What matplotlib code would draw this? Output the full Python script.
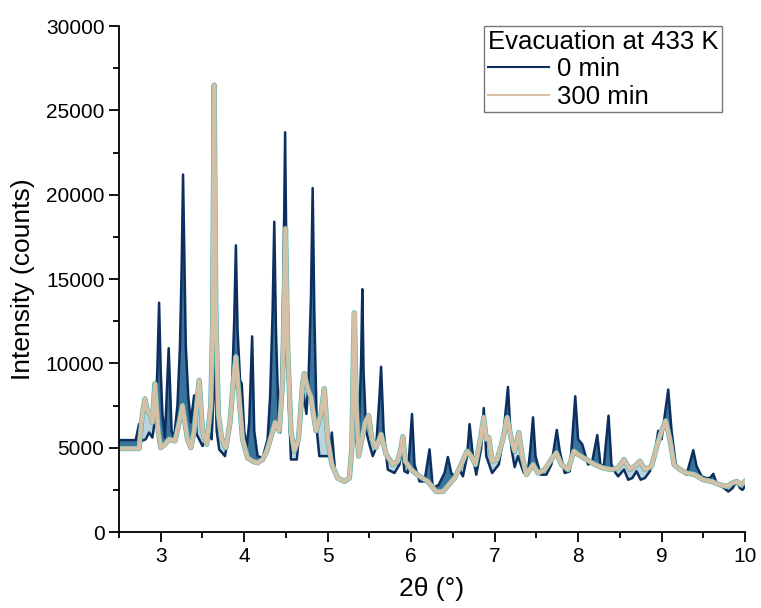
import numpy as np
import matplotlib
matplotlib.use('Agg')
import matplotlib.pyplot as plt
from matplotlib.ticker import MultipleLocator

plt.rcParams['font.family'] = ['Liberation Sans', 'DejaVu Sans']

# 0 min (2θ, counts)
theta_0min = [2.50, 2.70, 2.74, 2.77, 2.82, 2.86, 2.90, 2.94, 2.96, 2.98, 3.00, 3.02, 3.05, 3.095,
              3.13, 3.16, 3.20, 3.23, 3.25, 3.267, 3.285, 3.30, 3.33, 3.36, 3.40, 3.43, 3.50, 3.54,
              3.58, 3.61, 3.63, 3.645, 3.67, 3.70, 3.77, 3.82, 3.85, 3.88, 3.90, 3.92, 3.95, 3.97,
              4.00, 4.03, 4.06, 4.095, 4.12, 4.16, 4.22, 4.28, 4.31, 4.34, 4.36, 4.38, 4.41, 4.43,
              4.45, 4.47, 4.49, 4.51, 4.535, 4.56, 4.63, 4.67, 4.71, 4.745, 4.77, 4.80, 4.82, 4.84,
              4.87, 4.90, 4.95, 5.02, 5.05, 5.09, 5.15, 5.22, 5.27, 5.30, 5.32, 5.34, 5.36, 5.38,
              5.40, 5.415, 5.43, 5.46, 5.50, 5.54, 5.58, 5.62, 5.64, 5.67, 5.72, 5.80, 5.86, 5.89,
              5.92, 5.96, 5.99, 6.01, 6.04, 6.10, 6.16, 6.22, 6.26, 6.33, 6.40, 6.44, 6.48, 6.52,
              6.57, 6.62, 6.67, 6.70, 6.74, 6.78, 6.84, 6.87, 6.90, 6.97, 7.05, 7.10, 7.16, 7.20,
              7.24, 7.28, 7.30, 7.35, 7.40, 7.43, 7.46, 7.49, 7.55, 7.62, 7.68, 7.745, 7.78, 7.84,
              7.90, 7.93, 7.966, 8.00, 8.05, 8.09, 8.12, 8.17, 8.23, 8.27, 8.31, 8.365, 8.40, 8.45,
              8.48, 8.55, 8.60, 8.65, 8.70, 8.75, 8.80, 8.86, 8.93, 8.96, 9.00, 9.04, 9.08, 9.12,
              9.17, 9.22, 9.30, 9.35, 9.38, 9.42, 9.48, 9.53, 9.58, 9.62, 9.66, 9.75, 9.80, 9.85,
              9.90, 9.94, 9.97, 10.0]
counts_0min = [5450, 5450, 6400, 5400, 5500, 5900, 5600, 7000, 9800, 13600, 9500, 7000, 5600, 10900,
               6000, 5600, 7500, 11000, 15500, 21200, 15500, 11000, 8000, 6500, 8100, 5800, 5100, 5500,
               5900, 5500, 8000, 10800, 6000, 4900, 4500, 6000, 8000, 12500, 17000, 12000, 9000, 8800,
               6000, 5000, 6500, 11600, 6000, 4500, 4400, 5500, 8000, 13000, 18400, 12000, 7000, 5900,
               9500, 15000, 23700, 14000, 7500, 4300, 4300, 6500, 8200, 7000, 9000, 14000, 20400, 13000,
               6000, 4500, 4500, 4500, 5900, 3500, 3100, 3000, 3300, 6000, 9500, 5500, 4800, 7000,
               10000, 14400, 9500, 6000, 5200, 4500, 5000, 8000, 9800, 6000, 3700, 3500, 4000, 5000,
               3600, 3500, 5500, 7000, 4000, 3000, 3000, 4900, 2600, 2800, 3500, 4450, 3500, 3300,
               3800, 3300, 4500, 6400, 4500, 3400, 5000, 7350, 4500, 3500, 4000, 5500, 8600, 5000,
               3850, 4500, 4200, 3500, 3600, 5000, 6800, 4500, 3400, 3400, 4000, 6050, 4800, 3500,
               3600, 5500, 8050, 5500, 5200, 4500, 4000, 4200, 5750, 3900, 4000, 6900, 4000, 3500,
               3300, 3700, 3100, 3200, 3600, 3100, 3200, 3600, 5000, 6000, 5500, 7000, 8450, 6000,
               4000, 3700, 3400, 4300, 4850, 3900, 3300, 3200, 3200, 3450, 2900, 2600, 2400, 2600,
               3000, 2600, 2500, 2700]

# 300 min
theta_300min = [2.50, 2.74, 2.78, 2.81, 2.84, 2.87, 2.90, 2.93, 2.97, 3.00, 3.05, 3.10, 3.17, 3.22,
                3.26, 3.32, 3.36, 3.40, 3.46, 3.50, 3.55, 3.60, 3.62, 3.64, 3.66, 3.69, 3.73, 3.78,
                3.83, 3.88, 3.90, 3.93, 3.98, 4.04, 4.10, 4.16, 4.22, 4.27, 4.33, 4.37, 4.42, 4.46,
                4.48, 4.495, 4.52, 4.56, 4.60, 4.65, 4.70, 4.72, 4.76, 4.80, 4.86, 4.92, 4.96, 5.00,
                5.05, 5.12, 5.20, 5.26, 5.29, 5.31, 5.32, 5.34, 5.37, 5.41, 5.45, 5.49, 5.53, 5.58,
                5.64, 5.70, 5.78, 5.84, 5.88, 5.90, 5.93, 6.00, 6.10, 6.20, 6.30, 6.38, 6.45, 6.52,
                6.60, 6.67, 6.72, 6.77, 6.83, 6.87, 6.90, 6.93, 6.97, 7.03, 7.10, 7.15, 7.20, 7.24,
                7.29, 7.33, 7.38, 7.46, 7.52, 7.60, 7.68, 7.74, 7.80, 7.88, 7.95, 8.00, 8.10, 8.20,
                8.30, 8.40, 8.48, 8.55, 8.62, 8.68, 8.74, 8.80, 8.88, 8.95, 9.00, 9.05, 9.10, 9.15,
                9.22, 9.30, 9.40, 9.50, 9.60, 9.70, 9.78, 9.85, 9.90, 9.95, 10.0]
counts_300min = [4950, 4950, 7000, 7900, 7200, 7000, 6500, 8800, 6000, 5000, 5200, 5500, 5400, 6500,
                 7500, 5500, 5000, 6000, 9000, 6000, 5200, 7500, 12000, 26500, 13000, 7000, 5500, 5000,
                 6500, 9500, 10400, 8500, 5500, 4400, 4200, 4100, 4300, 4800, 5800, 6500, 6000, 9000,
                 14000, 18000, 11000, 6000, 4800, 5500, 8800, 9400, 8500, 8000, 6000, 7000, 8500, 5500,
                 4000, 3200, 3000, 3200, 5000, 11000, 13000, 8000, 4500, 5500, 6500, 6900, 5500, 5000,
                 5800, 4600, 4000, 4200, 5000, 5650, 4200, 3700, 3300, 3000, 2400, 2400, 2800, 3200,
                 4000, 4800, 4500, 4000, 5500, 6800, 5500, 5600, 4200, 4300, 5500, 6800, 5500, 4800,
                 5900, 4500, 3400, 4000, 3500, 3700, 4300, 4700, 4000, 3700, 4800, 4600, 4300, 4000,
                 3800, 3700, 3800, 4300, 3700, 3900, 4200, 3700, 3900, 5200, 6000, 6600, 5500, 4000,
                 3700, 3500, 3400, 3100, 3000, 2800, 2700, 2900, 3000, 2800, 3000]

legend_title = 'Evacuation at 433 K'
labels = ['0 min', '300 min']

c_start = '#0c2f5f'
c_fill = '#16598a'
c_teal = '#4db5ab'
c_end = '#d3c0a6'

fig = plt.figure(figsize=(7.61, 6.08), dpi=100)
ax = fig.add_axes([0.1564, 0.125, 0.8226, 0.832])

# common grid only for shading between the two patterns
grid = np.union1d(theta_0min, theta_300min)
y0 = np.interp(grid, theta_0min, counts_0min)
y1 = np.interp(grid, theta_300min, counts_300min)
ax.fill_between(grid, y0, y1, where=y0 >= y1, interpolate=True, color=c_fill, alpha=0.85, lw=0)
ax.fill_between(grid, y0, y1, where=y0 < y1, interpolate=True, color='#3f86a8', alpha=0.35, lw=0)

ax.plot(theta_0min, counts_0min, color=c_start, lw=1.8, label=labels[0])
ax.plot(theta_300min, counts_300min, color=c_teal, lw=3.8, solid_joinstyle='round')
ax.plot(theta_300min, counts_300min, color=c_end, lw=3.0, solid_joinstyle='round', label=labels[1])

ax.set_xlim(2.5, 10)
ax.set_ylim(0, 30000)
ax.xaxis.set_major_locator(MultipleLocator(1))
ax.xaxis.set_minor_locator(MultipleLocator(0.5))
ax.yaxis.set_major_locator(MultipleLocator(5000))
ax.yaxis.set_minor_locator(MultipleLocator(2500))
ax.spines['top'].set_visible(False)
ax.spines['right'].set_visible(False)
for s in ('left', 'bottom'):
    ax.spines[s].set_linewidth(1.3)
ax.tick_params(which='major', direction='out', length=7, width=1.3, labelsize=15)
ax.tick_params(which='minor', direction='out', length=4, width=1.3)

ax.set_xlabel('2θ (°)', fontsize=19, labelpad=8)
ax.set_ylabel('Intensity (counts)', fontsize=19, labelpad=8)

handles = ax.get_lines()
leg = ax.legend([handles[0], handles[2]], labels, title=legend_title, loc='upper right',
                bbox_to_anchor=(0.963, 1.0), fontsize=18.5, title_fontsize=18.5,
                fancybox=False, frameon=True, borderpad=0.15, borderaxespad=0,
                handlelength=2.4, handletextpad=0.3, labelspacing=0.15, alignment='left')
leg.get_frame().set_edgecolor('#555555')
leg.get_frame().set_linewidth(1.0)
leg._legend_box.sep = 2
for line in leg.get_lines():
    line.set_linewidth(1.5)

fig.savefig('out.png', dpi=100)
